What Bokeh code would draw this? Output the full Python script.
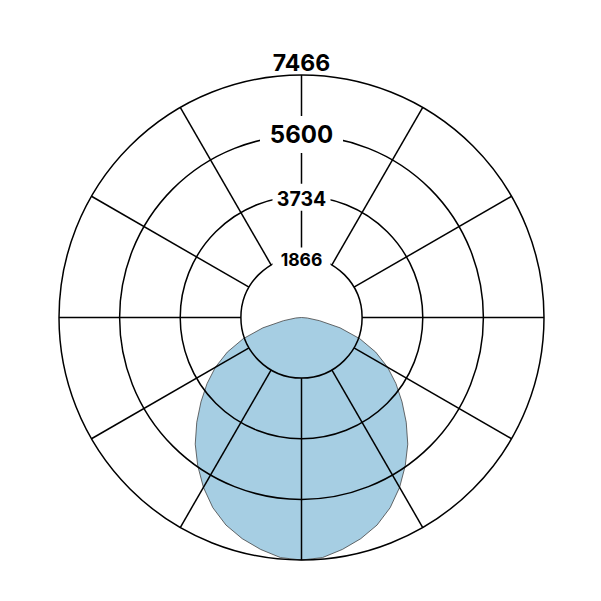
import numpy as np
from bokeh.plotting import figure
from bokeh.embed import file_html
from bokeh.resources import INLINE
from bokeh.core.properties import value

# ---- data ----
# luminous intensity curve (angle from nadir, degrees) -> value, symmetric
angles_deg = [0, 5, 10, 15, 20, 25, 30, 35, 40, 45, 50, 55, 60, 65, 70, 75, 80, 85, 90]
intensity = [7466, 7420, 7250, 7050, 6800, 6460, 6040, 5570, 5090, 4560,
             4040, 3550, 3060, 2520, 1910, 1230, 560, 180, 0]
ring_values = [1866, 3734, 5600, 7466]
ring_labels = ["1866", "3734", "5600", "7466"]
spoke_angles = [0, 30, 60, 90, 120, 150, 180, 210, 240, 270, 300, 330]

# ---- layout ----
W = H = 600
R_PX = 242.5
k = ring_values[-1] / R_PX          # data units per pixel
cx_px, cy_px = 301, 317

p = figure(width=W, height=H,
           x_range=(-cx_px * k, (W - cx_px) * k),
           y_range=(-(H - cy_px) * k, cy_px * k),
           output_backend="svg", toolbar_location=None,
           x_axis_location=None, y_axis_location=None, min_border=0)
p.grid.visible = False
p.outline_line_color = None
p.background_fill_color = "white"
p.border_fill_color = "white"

# polar curve
th = np.radians(np.array(angles_deg, dtype=float))
I = np.array(intensity, dtype=float)
full_th = np.concatenate([-th[::-1], th[1:]])
full_I = np.concatenate([I[::-1], I[1:]])
xs = full_I * np.sin(full_th)
ys = -full_I * np.cos(full_th)
p.patch(xs, ys, fill_color="#a6cee3", line_color="#444444", line_width=0.8)

# rings
p.circle(x=[0] * len(ring_values), y=[0] * len(ring_values), radius=ring_values,
         fill_color=None, line_color="black", line_width=1.5)

# spokes
a = np.radians(np.array(spoke_angles, dtype=float))
r0, r1 = ring_values[0], ring_values[-1]
p.segment(x0=r0 * np.sin(a), y0=r0 * np.cos(a), x1=r1 * np.sin(a), y1=r1 * np.cos(a),
          line_color="black", line_width=1.5)

# white boxes behind the inner labels (screen-sized)
box_w = [58, 58, 83]
box_h = [23, 27, 37]
box_off = [2, 1, -1]   # px downwards from the ring top
p.rect(x=[0, 0, 0], y=[ring_values[i] - box_off[i] * k for i in range(3)],
       width=box_w, height=box_h, width_units="screen", height_units="screen",
       fill_color="white", line_color=None)

# labels
sizes = ["17.5px", "19.5px", "24px", "23px"]
offsets = [3, 2, -2, -13]
for i in range(len(ring_values)):
    p.text(x=[0], y=[ring_values[i]], text=[ring_labels[i]],
           text_font=value("Inter"), text_font_style="bold",
           text_font_size=sizes[i], text_color="black",
           text_align="center", text_baseline="middle",
           y_offset=offsets[i])

open("out.html", "w").write(file_html(p, INLINE))
